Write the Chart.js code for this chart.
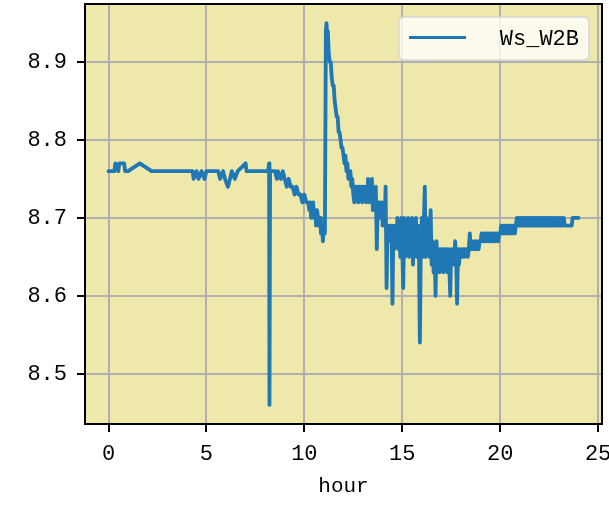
<!DOCTYPE html>
<html>
<head>
<meta charset="utf-8">
<script src="https://cdn.jsdelivr.net/npm/chart.js@4/dist/chart.umd.min.js"></script>
<style>
  html, body { margin: 0; padding: 0; background: #fff; }
  #wrap { width: 609px; height: 509px; }
</style>
</head>
<body>
<div id="wrap"><canvas id="wsChart" width="609" height="509"></canvas></div>
<script>
// series
const seriesLabel = 'Ws_W2B';
const xTitle = 'hour';
const xTickValues = [0, 5, 10, 15, 20, 25];
const yTickValues = [8.5, 8.6, 8.7, 8.8, 8.9];

const hours = [
    // 0 - 8.3
    0, 0.3, 0.35, 0.5, 0.55, 0.8, 0.85, 1.0, 1.6, 2.2,
    4.3, 4.35, 4.5, 4.6, 4.75, 4.9, 5.0, 5.6, 5.7, 5.85,
    5.95, 6.1, 6.2, 6.3, 6.45, 6.6, 7.0, 7.05, 8.15, 8.2,
    8.22, 8.25,
    // 8.3 - 11
    8.3, 8.5, 8.6, 8.65, 8.8, 8.9, 9.0, 9.1, 9.2, 9.3,
    9.4, 9.5, 9.6, 9.7, 9.8, 9.9, 10.0, 10.1, 10.2, 10.25,
    10.3, 10.35, 10.4, 10.45, 10.5, 10.55, 10.6, 10.65, 10.7, 10.75,
    10.8, 10.85, 10.9, 10.95, 11.0,
    // spike and decay
    11.05, 11.1, 11.13, 11.17, 11.2, 11.25, 11.3, 11.35, 11.4, 11.45,
    11.5, 11.55, 11.6, 11.65, 11.7, 11.75, 11.8, 11.85, 11.9, 11.95,
    12.0, 12.05, 12.1, 12.15, 12.2, 12.25,
    // 12.3 - 18
    12.30, 12.35, 12.40, 12.45, 12.50, 12.55, 12.60, 12.65, 12.70, 12.75,
    12.80, 12.85, 12.90, 12.95, 13.00, 13.05, 13.10, 13.15, 13.20, 13.25,
    13.30, 13.35, 13.40, 13.45, 13.50, 13.55, 13.60, 13.65, 13.70, 13.75,
    13.80, 13.85, 13.90, 13.95, 14.00, 14.05, 14.10, 14.15, 14.20, 14.25,
    14.30, 14.35, 14.40, 14.45, 14.50, 14.55, 14.60, 14.65, 14.70, 14.75,
    14.80, 14.85, 14.90, 14.95, 15.00, 15.05, 15.10, 15.15, 15.20, 15.25,
    15.30, 15.35, 15.40, 15.45, 15.50, 15.55, 15.60, 15.65, 15.70, 15.75,
    15.80, 15.85, 15.90, 15.95, 16.00, 16.05, 16.10, 16.15, 16.20, 16.25,
    16.30, 16.35, 16.40, 16.45, 16.50, 16.55, 16.60, 16.65, 16.70, 16.75,
    16.80, 16.85, 16.90, 16.95, 17.00, 17.05, 17.10, 17.15, 17.20, 17.25,
    17.30, 17.35, 17.40, 17.45, 17.50, 17.55, 17.60, 17.65, 17.70, 17.75,
    17.80, 17.85, 17.90, 17.95, 18.00,
    // 18 - 24
    18.05, 18.10, 18.15, 18.20, 18.25, 18.30, 18.35, 18.40, 18.45, 18.50,
    18.55, 18.60, 18.65, 18.70, 18.75, 18.80, 18.85, 18.90, 18.95, 19.00,
    19.05, 19.10, 19.15, 19.20, 19.25, 19.30, 19.35, 19.40, 19.45, 19.50,
    19.55, 19.60, 19.65, 19.70, 19.75, 19.80, 19.85, 19.90, 19.95, 20.00,
    20.05, 20.10, 20.15, 20.20, 20.25, 20.30, 20.35, 20.40, 20.45, 20.50,
    20.55, 20.60, 20.65, 20.70, 20.75, 20.80, 20.85, 20.90, 20.95, 21.00,
    21.05, 21.10, 21.15, 21.20, 21.25, 21.30, 21.35, 21.40, 21.45, 21.50,
    21.55, 21.60, 21.65, 21.70, 21.75, 21.80, 21.85, 21.90, 21.95, 22.00,
    22.05, 22.10, 22.15, 22.20, 22.25, 22.30, 22.35, 22.40, 22.45, 22.50,
    22.55, 22.60, 22.65, 22.70, 22.75, 22.80, 22.85, 22.90, 22.95, 23.00,
    23.05, 23.10, 23.15, 23.20, 23.25, 23.30, 23.35, 23.40, 23.45, 23.50,
    23.55, 23.60, 23.65, 23.70, 23.75, 23.80, 23.85, 23.90, 23.95, 24.00
];

const wsW2B = [
    // 0 - 8.3
    8.76, 8.76, 8.77, 8.76, 8.77, 8.77, 8.76, 8.76, 8.77, 8.76,
    8.76, 8.75, 8.76, 8.75, 8.76, 8.75, 8.76, 8.76, 8.75, 8.76,
    8.75, 8.74, 8.75, 8.76, 8.75, 8.76, 8.77, 8.76, 8.76, 8.77,
    8.46, 8.76,
    // 8.3 - 11
    8.76, 8.76, 8.75, 8.76, 8.75, 8.76, 8.75, 8.74, 8.75, 8.74,
    8.74, 8.73, 8.74, 8.73, 8.73, 8.72, 8.73, 8.72, 8.72, 8.71,
    8.72, 8.70, 8.71, 8.72, 8.70, 8.71, 8.69, 8.71, 8.70, 8.69,
    8.70, 8.68, 8.69, 8.67, 8.69,
    // spike and decay
    8.68, 8.94, 8.95, 8.93, 8.94, 8.91, 8.90, 8.90, 8.88, 8.87,
    8.87, 8.85, 8.84, 8.83, 8.83, 8.81, 8.81, 8.80, 8.79, 8.79,
    8.78, 8.77, 8.78, 8.76, 8.77, 8.75,
    // 12.3 - 18
    8.75, 8.76, 8.74, 8.75, 8.73, 8.72, 8.74, 8.73, 8.74, 8.72,
    8.74, 8.73, 8.74, 8.72, 8.74, 8.73, 8.74, 8.72, 8.74, 8.75,
    8.72, 8.74, 8.73, 8.75, 8.71, 8.73, 8.72, 8.74, 8.66, 8.72,
    8.71, 8.72, 8.70, 8.72, 8.69, 8.71, 8.69, 8.74, 8.61, 8.69,
    8.67, 8.69, 8.67, 8.69, 8.59, 8.69, 8.66, 8.69, 8.67, 8.70,
    8.66, 8.69, 8.65, 8.70, 8.66, 8.61, 8.70, 8.65, 8.69, 8.66,
    8.70, 8.65, 8.69, 8.66, 8.70, 8.64, 8.69, 8.66, 8.70, 8.65,
    8.69, 8.66, 8.54, 8.67, 8.70, 8.65, 8.69, 8.74, 8.65, 8.70,
    8.66, 8.69, 8.65, 8.71, 8.64, 8.67, 8.63, 8.66, 8.60, 8.67,
    8.64, 8.66, 8.63, 8.66, 8.64, 8.66, 8.63, 8.66, 8.64, 8.66,
    8.63, 8.66, 8.64, 8.60, 8.66, 8.64, 8.66, 8.64, 8.67, 8.65,
    8.59, 8.66, 8.64, 8.66, 8.65,
    // 18 - 24
    8.66, 8.65, 8.66, 8.65, 8.66, 8.66, 8.65, 8.66, 8.68, 8.66,
    8.67, 8.66, 8.67, 8.66, 8.67, 8.66, 8.67, 8.66, 8.67, 8.67,
    8.68, 8.67, 8.68, 8.67, 8.68, 8.67, 8.68, 8.67, 8.68, 8.67,
    8.68, 8.67, 8.68, 8.68, 8.67, 8.68, 8.68, 8.67, 8.68, 8.68,
    8.69, 8.68, 8.69, 8.68, 8.69, 8.68, 8.69, 8.68, 8.69, 8.68,
    8.69, 8.68, 8.69, 8.69, 8.68, 8.69, 8.70, 8.69, 8.70, 8.69,
    8.70, 8.69, 8.70, 8.69, 8.70, 8.69, 8.70, 8.69, 8.70, 8.69,
    8.70, 8.69, 8.70, 8.69, 8.70, 8.69, 8.70, 8.69, 8.70, 8.69,
    8.70, 8.69, 8.70, 8.69, 8.70, 8.69, 8.70, 8.69, 8.70, 8.69,
    8.70, 8.69, 8.70, 8.69, 8.70, 8.69, 8.70, 8.69, 8.70, 8.70,
    8.69, 8.70, 8.69, 8.70, 8.70, 8.69, 8.69, 8.69, 8.69, 8.69,
    8.69, 8.69, 8.69, 8.70, 8.70, 8.70, 8.70, 8.70, 8.70, 8.70
];

const FONT = "'Liberation Mono', 'DejaVu Sans Mono', monospace";
const LINE_COLOR = '#1f77b4';

// axes face + frame + legend box like matplotlib
const axesStyle = {
    id: 'axesStyle',
    beforeDraw(chart) {
        const { ctx, chartArea: a } = chart;
        ctx.save();
        ctx.fillStyle = '#eee8aa';
        ctx.fillRect(a.left, a.top, a.right - a.left, a.bottom - a.top);
        ctx.restore();
    },
    afterDraw(chart) {
        const { ctx, chartArea: a } = chart;
        ctx.save();
        ctx.strokeStyle = '#000';
        ctx.lineWidth = 2;
        ctx.strokeRect(a.left, a.top, a.right - a.left, a.bottom - a.top);

        // legend
        const bx = 399, by = 17, bw = 190, bh = 43, r = 5;
        ctx.beginPath();
        ctx.moveTo(bx + r, by);
        ctx.arcTo(bx + bw, by, bx + bw, by + bh, r);
        ctx.arcTo(bx + bw, by + bh, bx, by + bh, r);
        ctx.arcTo(bx, by + bh, bx, by, r);
        ctx.arcTo(bx, by, bx + bw, by, r);
        ctx.closePath();
        ctx.fillStyle = 'rgba(255,255,255,0.8)';
        ctx.fill();
        ctx.strokeStyle = '#d6d6d6';
        ctx.lineWidth = 1.5;
        ctx.stroke();

        ctx.beginPath();
        ctx.moveTo(409, 37.5);
        ctx.lineTo(466, 37.5);
        ctx.strokeStyle = LINE_COLOR;
        ctx.lineWidth = 3;
        ctx.stroke();

        ctx.fillStyle = '#000';
        ctx.font = '22px ' + FONT;
        ctx.textAlign = 'right';
        ctx.textBaseline = 'middle';
        ctx.fillText(seriesLabel, 579, 39);
        ctx.restore();
    }
};

const ctx = document.getElementById('wsChart');
new Chart(ctx, {
    type: 'line',
    data: {
        datasets: [{
            label: seriesLabel,
            data: hours.map((h, i) => ({ x: h, y: wsW2B[i] })),
            borderColor: LINE_COLOR,
            backgroundColor: LINE_COLOR,
            borderWidth: 3.8,
            borderCapStyle: 'round',
            borderJoinStyle: 'round',
            pointRadius: 0,
            tension: 0,
            fill: false
        }]
    },
    options: {
        responsive: false,
        animation: false,
        events: [],
        layout: { padding: { left: 0, top: 4, right: 7, bottom: 0 } },
        plugins: {
            legend: { display: false },
            tooltip: { enabled: false }
        },
        scales: {
            x: {
                type: 'linear',
                min: -1.2,
                max: 25.2,
                afterBuildTicks: s => { s.ticks = xTickValues.map(v => ({ value: v })); },
                afterFit: s => { s.height = 85; s.paddingLeft = 0; s.paddingRight = 0; },
                grid: { color: '#b0b0b0', lineWidth: 2, tickColor: '#000', tickLength: 8, tickWidth: 2 },
                border: { display: false },
                ticks: {
                    color: '#000',
                    font: { family: FONT, size: 22 },
                    padding: 9,
                    maxRotation: 0,
                    callback: v => String(v)
                },
                title: {
                    display: true,
                    text: xTitle,
                    color: '#000',
                    font: { family: FONT, size: 21 },
                    padding: { top: 0, bottom: 10 }
                }
            },
            y: {
                type: 'linear',
                min: 8.4355,
                max: 8.9745,
                afterBuildTicks: s => { s.ticks = yTickValues.map(v => ({ value: v })); },
                afterFit: s => { s.width = 85; s.paddingTop = 0; s.paddingBottom = 0; },
                grid: { color: '#b0b0b0', lineWidth: 2, tickColor: '#000', tickLength: 8, tickWidth: 2 },
                border: { display: false },
                ticks: {
                    color: '#000',
                    font: { family: FONT, size: 22 },
                    padding: 10,
                    callback: v => v.toFixed(1)
                }
            }
        }
    },
    plugins: [axesStyle]
});
</script>
</body>
</html>
